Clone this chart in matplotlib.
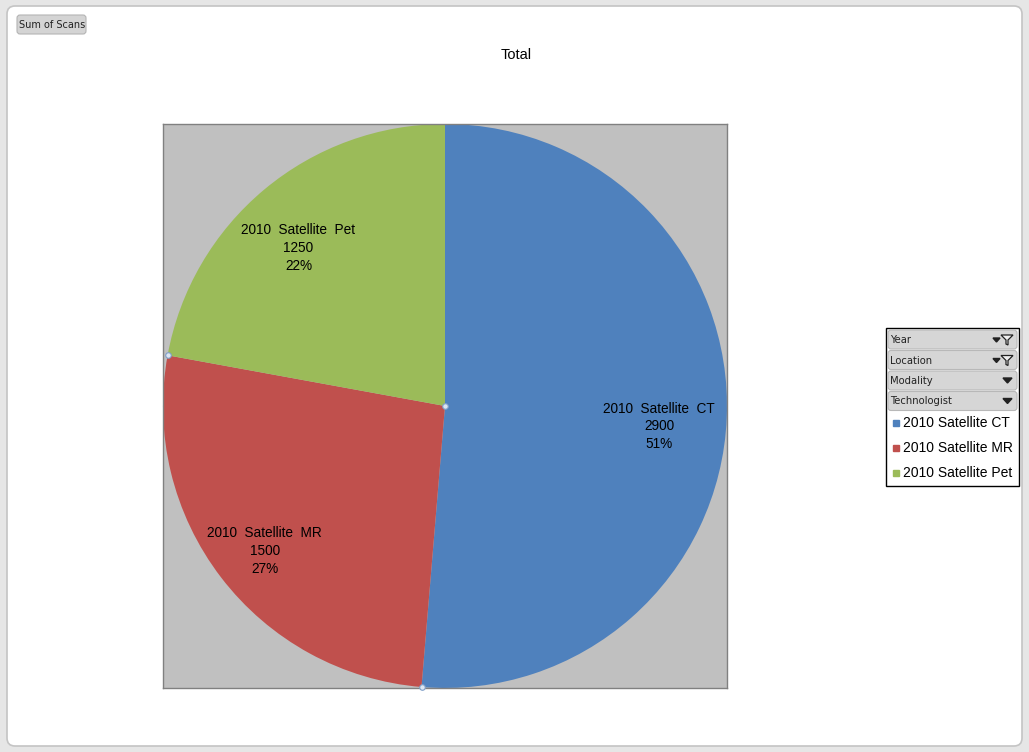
import matplotlib
matplotlib.use('Agg')
import numpy as np
import matplotlib.pyplot as plt
from matplotlib.patches import FancyBboxPatch, Rectangle, Polygon
from matplotlib.transforms import Affine2D

W, H = 1029, 752

categories = ['2010 Satellite CT', '2010 Satellite MR', '2010 Satellite Pet']
scans = [2900, 1500, 1250]
colors = ['#4F81BD', '#C0504D', '#9BBB59']
fields = ['Year', 'Location', 'Modality', 'Technologist']
filtered = [True, True, False, False]

plt.rcParams['font.family'] = ['Liberation Sans', 'DejaVu Sans']

fig = plt.figure(figsize=(W / 100, H / 100), dpi=100)
fig.patch.set_facecolor('#E6E6E6')

# pixel coords, origin top-left
px = Affine2D().scale(1, -1).translate(0, H)

# window
fig.patches.append(FancyBboxPatch((7, 6), 1015, 740, boxstyle='round,pad=0,rounding_size=8',
                                  transform=px, facecolor='white', edgecolor='#C4C4C4', lw=1.2,
                                  zorder=-5))

# pie plot area
ax = fig.add_axes([163 / W, 1 - 688 / H, 564 / W, 564 / H])
wedges, _ = ax.pie(scans, colors=colors, startangle=90, counterclock=False,
                   radius=1, frame=True, wedgeprops=dict(linewidth=0))
ax.set_xlim(-1, 1)
ax.set_ylim(-1, 1)
ax.set_facecolor('#C0C0C0')
ax.set_xticks([])
ax.set_yticks([])
for s in ax.spines.values():
    s.set_color('#808080')
    s.set_linewidth(1)

total = sum(scans)
for w, cat, v in zip(wedges, categories, scans):
    mid = np.deg2rad((w.theta1 + w.theta2) / 2)
    r = 0.78
    ax.text(r * np.cos(mid) - 0.02, r * np.sin(mid) - 0.04,
            f'{cat.replace(" ", "  ")}\n{v}\n{v / total * 100:.0f}%',
            ha='center', va='center', fontsize=9.8, color='black', linespacing=1.35)

# selection handles
hx = [0] + [np.cos(np.deg2rad(w.theta1)) for w in wedges[:2]]
hy = [0] + [np.sin(np.deg2rad(w.theta1)) for w in wedges[:2]]
ax.plot(hx, hy, 'o', ms=4, mfc='#DCE6F2', mec='#7F9FC8', mew=0.8, clip_on=False, zorder=5)

# title
fig.text(516, 55, 'Total', transform=px, ha='center', va='center', fontsize=10.5)

# Sum of Scans button
fig.patches.append(FancyBboxPatch((17, 15), 69, 19, boxstyle='round,pad=0,rounding_size=3',
                                  transform=px, facecolor='#D4D4D4', edgecolor='#B4B4B4', lw=0.8))
fig.text(52, 25, 'Sum of Scans', transform=px, ha='center', va='center',
         fontsize=7.0, family='DejaVu Sans', color='#222222')

# legend box with field buttons
fig.patches.append(Rectangle((886, 328), 133, 158, transform=px, facecolor='white',
                             edgecolor='black', lw=1))
for i, (f, filt) in enumerate(zip(fields, filtered)):
    y0 = 330 + i * 20.5
    fig.patches.append(FancyBboxPatch((888, y0), 129, 19, boxstyle='round,pad=0,rounding_size=3',
                                      transform=px, facecolor='#D6D6D6', edgecolor='#B8B8B8', lw=0.8))
    fig.text(890, y0 + 10, f, transform=px, ha='left', va='center',
             fontsize=7.2, family='DejaVu Sans', color='#222222')
    yc = y0 + 10
    if filt:
        fig.patches.append(Polygon([(993, yc - 2), (1000, yc - 2), (996.5, yc + 2)],
                                   transform=px, color='#222222'))
        fig.patches.append(Polygon([(1001, yc - 5), (1013, yc - 5), (1008, yc), (1008, yc + 5),
                                    (1006, yc + 4), (1006, yc)],
                                   transform=px, facecolor='#F0F0F0', edgecolor='#222222', lw=0.9))
    else:
        fig.patches.append(Polygon([(1003, yc - 3), (1012, yc - 3), (1007.5, yc + 2)],
                                   transform=px, color='#222222'))

for i, (cat, c) in enumerate(zip(categories, colors)):
    yc = 423 + i * 25
    fig.patches.append(Rectangle((893, yc - 3), 6, 6, transform=px, color=c))
    fig.text(903, yc, cat, transform=px, ha='left', va='center', fontsize=10)

fig.savefig('out.png', dpi=100)
